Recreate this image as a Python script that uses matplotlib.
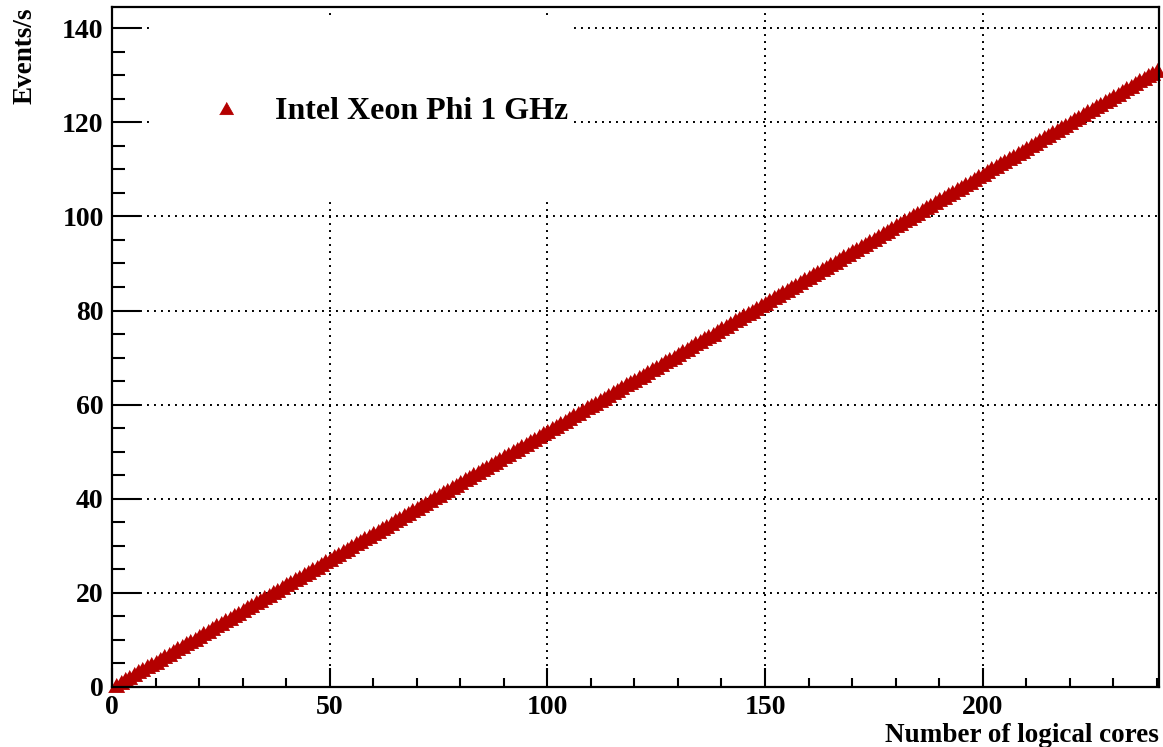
import numpy as np
import matplotlib
matplotlib.use("Agg")
import matplotlib.pyplot as plt
from matplotlib.patches import Rectangle
from matplotlib.ticker import MultipleLocator

cores = list(range(1, 241))
events_per_s = [
    0.5, 1.1, 1.6, 2.2, 2.7, 3.3, 3.8, 4.4, 4.9, 5.4,
    6.0, 6.5, 7.1, 7.6, 8.2, 8.7, 9.3, 9.8, 10.3, 10.9,
    11.4, 12.0, 12.5, 13.1, 13.6, 14.2, 14.7, 15.2, 15.8, 16.3,
    16.9, 17.4, 18.0, 18.5, 19.1, 19.6, 20.1, 20.7, 21.2, 21.8,
    22.3, 22.9, 23.4, 24.0, 24.5, 25.0, 25.6, 26.1, 26.7, 27.2,
    27.8, 28.3, 28.9, 29.4, 29.9, 30.5, 31.0, 31.6, 32.1, 32.7,
    33.2, 33.8, 34.3, 34.8, 35.4, 35.9, 36.5, 37.0, 37.6, 38.1,
    38.7, 39.2, 39.7, 40.3, 40.8, 41.4, 41.9, 42.5, 43.0, 43.6,
    44.1, 44.6, 45.2, 45.7, 46.3, 46.8, 47.4, 47.9, 48.5, 49.0,
    49.5, 50.1, 50.6, 51.2, 51.7, 52.3, 52.8, 53.4, 53.9, 54.5,
    55.0, 55.5, 56.1, 56.6, 57.2, 57.7, 58.3, 58.8, 59.4, 59.9,
    60.4, 61.0, 61.5, 62.1, 62.6, 63.2, 63.7, 64.3, 64.8, 65.3,
    65.9, 66.4, 67.0, 67.5, 68.1, 68.6, 69.2, 69.7, 70.2, 70.8,
    71.3, 71.9, 72.4, 73.0, 73.5, 74.1, 74.6, 75.1, 75.7, 76.2,
    76.8, 77.3, 77.9, 78.4, 79.0, 79.5, 80.0, 80.6, 81.1, 81.7,
    82.2, 82.8, 83.3, 83.9, 84.4, 84.9, 85.5, 86.0, 86.6, 87.1,
    87.7, 88.2, 88.8, 89.3, 89.8, 90.4, 90.9, 91.5, 92.0, 92.6,
    93.1, 93.7, 94.2, 94.8, 95.3, 95.9, 96.4, 97.0, 97.5, 98.1,
    98.6, 99.2, 99.7, 100.3, 100.8, 101.4, 101.9, 102.5, 103.0, 103.6,
    104.1, 104.7, 105.2, 105.8, 106.3, 106.9, 107.4, 108.0, 108.5, 109.1,
    109.6, 110.2, 110.7, 111.3, 111.8, 112.4, 112.9, 113.5, 114.0, 114.6,
    115.1, 115.7, 116.2, 116.8, 117.3, 117.9, 118.4, 119.0, 119.5, 120.1,
    120.6, 121.2, 121.7, 122.3, 122.8, 123.4, 123.9, 124.5, 125.0, 125.6,
    126.1, 126.7, 127.2, 127.8, 128.3, 128.9, 129.4, 130.0, 130.5, 131.1,
]
series_label = "Intel Xeon Phi 1 GHz"
x_title = "Number of logical cores"
y_title = "Events/s"

plt.rcParams['font.family'] = ['Liberation Serif', 'DejaVu Serif']
plt.rcParams['font.weight'] = 'bold'

fig = plt.figure(figsize=(11.63, 7.47), dpi=100)
ax = fig.add_axes([112 / 1163, 60 / 747, 1047 / 1163, 680 / 747])

red = '#b40000'
# ROOT full triangle: a bit wider than tall
tri = [(-1.0, -0.88), (1.0, -0.88), (0.0, 0.88)]
ax.plot(cores, events_per_s, linestyle='none', marker=tri, ms=11.5,
        color=red, mec=red, mew=0.6, label=series_label, zorder=3,
        clip_on=False)

ax.set_xlim(0, 240.5)
ax.set_ylim(0, 144.5)

ax.xaxis.set_major_locator(MultipleLocator(50))
ax.xaxis.set_minor_locator(MultipleLocator(10))
ax.yaxis.set_major_locator(MultipleLocator(20))
ax.yaxis.set_minor_locator(MultipleLocator(5))

ax.grid(True, which='major', color='black', linestyle=(0, (1, 2.6)), linewidth=1.4)
ax.set_axisbelow(True)

for s in ax.spines.values():
    s.set_linewidth(1.6)
    s.set_zorder(4)

ax.tick_params(axis='both', which='both', direction='in', width=1.5,
               labelsize=20, top=False, right=False)
ax.tick_params(axis='x', which='major', length=14, pad=6)
ax.tick_params(axis='x', which='minor', length=6.5)
ax.tick_params(axis='y', which='major', length=20, pad=6)
ax.tick_params(axis='y', which='minor', length=9.5)
for lab in ax.get_xticklabels() + ax.get_yticklabels():
    lab.set_fontweight('bold')

ax.set_xlabel(x_title, loc='right', fontsize=19.5, fontweight='bold', labelpad=2)
ax.set_ylabel(y_title, loc='top', fontsize=19.5, fontweight='bold', labelpad=18)

# white legend pad hiding the grid, like the ROOT TLegend fill
ax.add_patch(Rectangle((0.038, 0.713), 0.401, 0.274, transform=ax.transAxes,
                       facecolor='white', edgecolor='none', zorder=1))
leg = ax.legend(loc='center left', bbox_to_anchor=(0.0815, 0.846), frameon=False,
                fontsize=23, handlelength=1.0, handletextpad=1.04, borderaxespad=0,
                markerscale=0.87)
for t in leg.get_texts():
    t.set_fontweight('bold')

fig.savefig('out.png', dpi=100)
